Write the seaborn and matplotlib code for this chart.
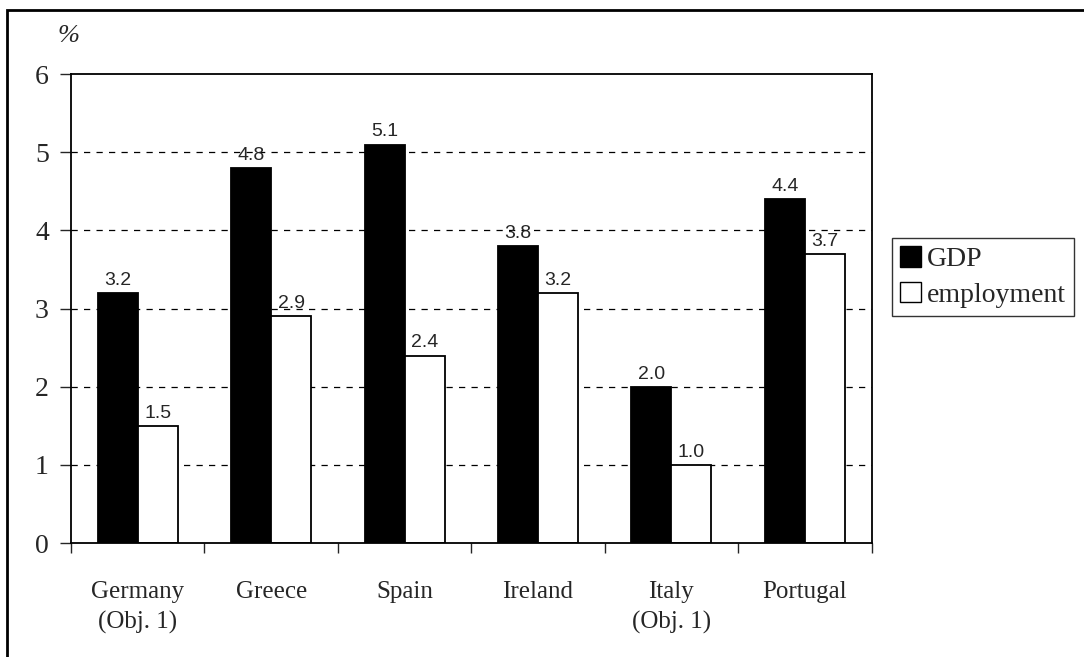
import matplotlib
matplotlib.use("Agg")
import matplotlib.pyplot as plt
import matplotlib.patches as mpatches
import seaborn as sns
import pandas as pd

countries = ["Germany\n(Obj. 1)", "Greece", "Spain", "Ireland", "Italy\n(Obj. 1)", "Portugal"]
gdp = [3.2, 4.8, 5.1, 3.8, 2.0, 4.4]
employment = [1.5, 2.9, 2.4, 3.2, 1.0, 3.7]
series = ["GDP", "employment"]

df = pd.DataFrame({
    "country": countries * 2,
    "value": gdp + employment,
    "series": [series[0]] * len(gdp) + [series[1]] * len(employment),
})

sns.set_style("white")
plt.rcParams["font.family"] = ["Liberation Serif", "DejaVu Serif"]

fig = plt.figure(figsize=(10.84, 6.57), dpi=100)
ax = fig.add_axes([0.0655, 0.1735, 0.7385, 0.7135])

sns.barplot(data=df, x="country", y="value", hue="series", order=countries,
            hue_order=series, palette=["black", "white"], edgecolor="black",
            linewidth=1.3, width=0.6, saturation=1, ax=ax)

# value labels
for cont in ax.containers:
    ax.bar_label(cont, fmt="%.1f", padding=3, fontsize=14,
                 family="Liberation Sans")

ax.set_xlim(-0.5, len(countries) - 0.5)
ax.set_ylim(0, 6)
ax.set_yticks(range(0, 7))
ax.set_xlabel("")
ax.set_ylabel("")

# gridlines
for y in range(1, 6):
    ax.axhline(y, color="black", linestyle=(0, (5, 5)), linewidth=0.9, zorder=0)

for s in ax.spines.values():
    s.set_visible(True)
    s.set_color("black")
    s.set_linewidth(1.3)

ax.tick_params(axis="y", direction="out", length=8, width=1, labelsize=20,
               left=True, pad=8)
ax.set_xticks(range(len(countries)))
ax.set_xticklabels(countries, fontsize=18, linespacing=1.45)
ax.tick_params(axis="x", which="major", length=0, pad=27)
ax.set_xticks([i - 0.5 for i in range(len(countries) + 1)], minor=True)
ax.tick_params(axis="x", which="minor", direction="out", length=7, width=1, bottom=True)
for lbl in ax.get_xticklabels():
    lbl.set_verticalalignment("top")

ax.get_legend().remove()
handles = [mpatches.Patch(facecolor="black", edgecolor="black", label="GDP"),
           mpatches.Patch(facecolor="white", edgecolor="black", label="employment")]
leg = fig.legend(handles=handles, loc="upper left", bbox_to_anchor=(0.823, 0.638),
                 fontsize=20, frameon=True, fancybox=False, handlelength=0.75,
                 handleheight=0.75, handletextpad=0.2, borderpad=0.3,
                 labelspacing=0.35, borderaxespad=0)
leg.get_frame().set_edgecolor("black")
leg.get_frame().set_linewidth(1)

fig.text(0.053, 0.945, "%", fontsize=19, style="italic", ha="left", va="center")

# outer border
fig.patches.append(mpatches.Rectangle((0.006, -0.02), 1.2, 1.005, transform=fig.transFigure,
                                      fill=False, edgecolor="black", linewidth=2))

fig.savefig("out.png", dpi=100)
